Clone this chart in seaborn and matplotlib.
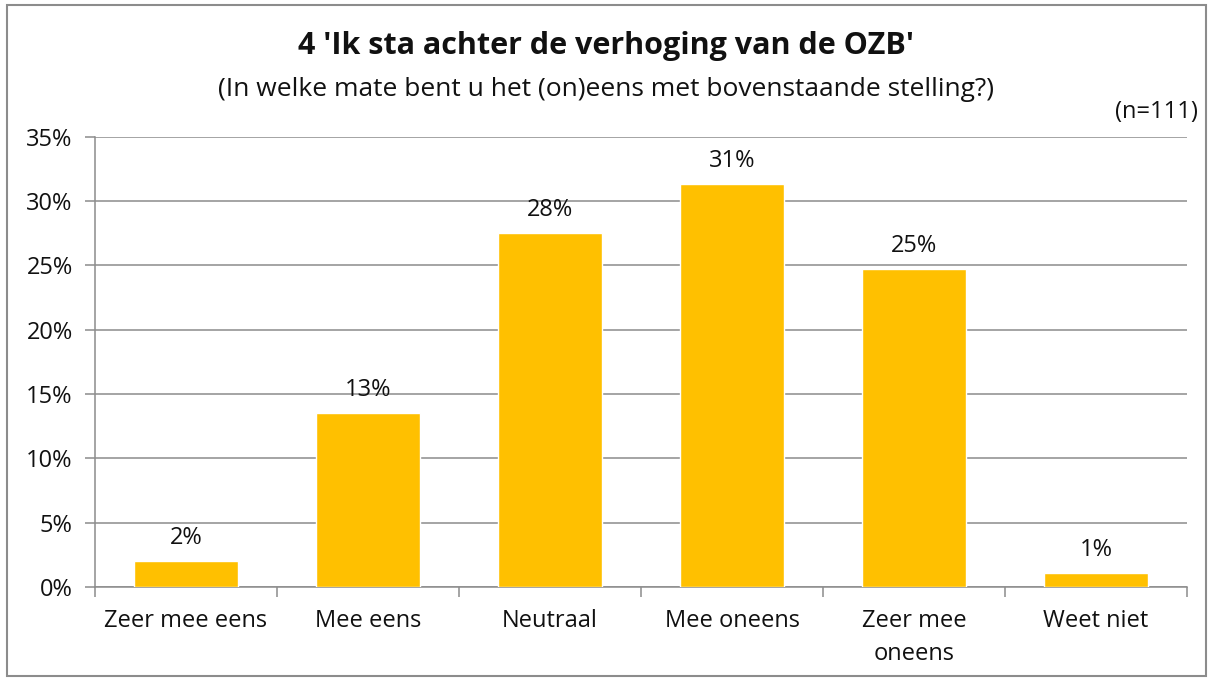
import matplotlib.pyplot as plt
import pandas as pd
import seaborn as sns
from matplotlib.patches import Rectangle
from matplotlib.ticker import MultipleLocator, PercentFormatter

categories = ["Zeer mee eens", "Mee eens", "Neutraal", "Mee oneens", "Zeer mee\noneens", "Weet niet"]
values = [2.0, 13.5, 27.5, 31.3, 24.7, 1.1]
labels = ["2%", "13%", "28%", "31%", "25%", "1%"]

title = "4 'Ik sta achter de verhoging van de OZB'"
subtitle = "(In welke mate bent u het (on)eens met bovenstaande stelling?)"
n_note = "(n=111)"


def main():
    df = pd.DataFrame({"categorie": categories, "pct": values})

    sns.set_theme(style="white")
    plt.rcParams["font.family"] = ["Open Sans", "DejaVu Sans"]

    fig = plt.figure(figsize=(12.12, 6.81), dpi=100)
    fig.patch.set_facecolor("white")
    ax = fig.add_axes([0.0784, 0.138, 0.901, 0.661])

    sns.barplot(data=df, x="categorie", y="pct", color="#FFC000", saturation=1,
                width=0.57, ax=ax, zorder=3)

    for i, (v, lab) in enumerate(zip(values, labels)):
        ax.annotate(lab, (i, v), xytext=(0, 8), textcoords="offset points",
                    ha="center", va="bottom", fontsize=17, color="#111111")

    ax.set_ylim(0, 35)
    ax.set_xlim(-0.5, len(categories) - 0.5)
    ax.yaxis.set_major_locator(MultipleLocator(5))
    ax.yaxis.set_major_formatter(PercentFormatter(decimals=0))
    ax.grid(axis="y", color="#8c8c8c", linewidth=1.1, zorder=0)
    ax.set_axisbelow(True)
    ax.set_xlabel("")
    ax.set_ylabel("")

    for side in ["top", "right"]:
        ax.spines[side].set_visible(False)
    for side in ["left", "bottom"]:
        ax.spines[side].set_color("#8c8c8c")
        ax.spines[side].set_linewidth(1.1)

    # category-boundary ticks on x, like the original
    ax.set_xticks(range(len(categories)))
    ax.set_xticklabels(categories, linespacing=1.5)
    ax.set_xticks([i - 0.5 for i in range(len(categories) + 1)], minor=True)
    ax.tick_params(axis="x", which="major", length=0, labelsize=17, pad=16, colors="#111111")
    ax.tick_params(axis="x", which="minor", length=7, width=1.1, color="#8c8c8c", bottom=True)
    ax.tick_params(axis="y", length=7, width=1.1, color="#8c8c8c", left=True,
                   labelsize=17, pad=9, labelcolor="#111111")

    fig.text(0.5, 0.932, title, ha="center", va="center", fontsize=22,
             fontweight="bold", color="#111111")
    fig.text(0.5, 0.869, subtitle, ha="center", va="center", fontsize=19, color="#111111")
    fig.text(0.988, 0.836, n_note, ha="right", va="center", fontsize=17, color="#111111")

    fig.patches.append(Rectangle((0.006, 0.007), 0.989, 0.985, transform=fig.transFigure,
                                 fill=False, edgecolor="#8c8c8c", linewidth=1.5))

    fig.savefig("out.png", dpi=100, facecolor="white")
    plt.close(fig)


if __name__ == "__main__":
    main()
